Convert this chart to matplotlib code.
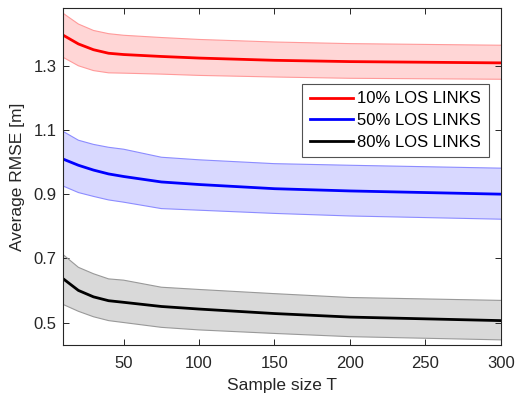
import numpy as np
import matplotlib
matplotlib.use("Agg")
import matplotlib.pyplot as plt

plt.rcParams['font.family'] = ['Liberation Sans', 'DejaVu Sans']

# sample sizes and RMSE (mean with upper / lower envelope)
T = [10, 20, 30, 40, 50, 75, 100, 150, 200, 300]

los10_mean = [1.395, 1.368, 1.350, 1.339, 1.335, 1.329, 1.324, 1.317, 1.313, 1.309]
los10_hi = [1.463, 1.430, 1.410, 1.400, 1.395, 1.388, 1.382, 1.374, 1.369, 1.364]
los10_lo = [1.326, 1.300, 1.285, 1.278, 1.277, 1.274, 1.270, 1.265, 1.261, 1.258]

los50_mean = [1.009, 0.990, 0.975, 0.963, 0.955, 0.938, 0.930, 0.917, 0.910, 0.900]
los50_hi = [1.095, 1.068, 1.055, 1.046, 1.040, 1.015, 1.007, 0.995, 0.990, 0.981]
los50_lo = [0.925, 0.905, 0.893, 0.882, 0.875, 0.855, 0.850, 0.840, 0.832, 0.822]

los80_mean = [0.636, 0.600, 0.580, 0.568, 0.563, 0.550, 0.542, 0.528, 0.517, 0.506]
los80_hi = [0.711, 0.672, 0.652, 0.636, 0.632, 0.610, 0.603, 0.590, 0.578, 0.569]
los80_lo = [0.556, 0.535, 0.518, 0.506, 0.500, 0.485, 0.477, 0.466, 0.456, 0.446]

labels = ['10% LOS LINKS', '50% LOS LINKS', '80% LOS LINKS']

fig = plt.figure(figsize=(5.17, 4.0), dpi=100)
ax = fig.add_axes([0.1225, 0.1375, 0.846, 0.8425])

series = [
    (los10_mean, los10_hi, los10_lo, '#ff0000', '#ffd6d6', '#ff9a9a'),
    (los50_mean, los50_hi, los50_lo, '#0000ff', '#d8d8ff', '#8c8cff'),
    (los80_mean, los80_hi, los80_lo, '#000000', '#d9d9d9', '#999999'),
]
for (m, hi, lo, c, fc, ec), lab in zip(series, labels):
    ax.fill_between(T, lo, hi, facecolor=fc, edgecolor='none')
    ax.plot(T, hi, color=ec, lw=0.8)
    ax.plot(T, lo, color=ec, lw=0.8)
    ax.plot(T, m, color=c, lw=2.0, label=lab)

ax.set_xlim(10, 300)
ax.set_ylim(0.43, 1.48)
ax.set_xticks([50, 100, 150, 200, 250, 300])
ax.set_yticks([0.5, 0.7, 0.9, 1.1, 1.3])
ax.set_yticklabels(['0.5', '0.7', '0.9', '1.1', '1.3'])

dark = '#262626'
for s in ax.spines.values():
    s.set_color(dark)
    s.set_linewidth(0.8)
ax.tick_params(direction='in', top=True, right=True, length=4, width=0.7,
               colors=dark, labelsize=12, pad=5)
ax.tick_params(axis='x', pad=8)

ax.set_xlabel('Sample size T', fontsize=12.5, color=dark, labelpad=5)
ax.set_ylabel('Average RMSE [m]', fontsize=12.5, color=dark, labelpad=6)

leg = ax.legend(loc='upper right', bbox_to_anchor=(0.9726, 0.7745),
                fontsize=12, frameon=True, fancybox=False,
                handlelength=2.6, handletextpad=0.25, borderpad=0.45,
                labelspacing=0.4, borderaxespad=0)
leg.get_frame().set_edgecolor(dark)
leg.get_frame().set_linewidth(0.8)
for t in leg.get_texts():
    t.set_color('black')

fig.savefig('out.png', dpi=100)
